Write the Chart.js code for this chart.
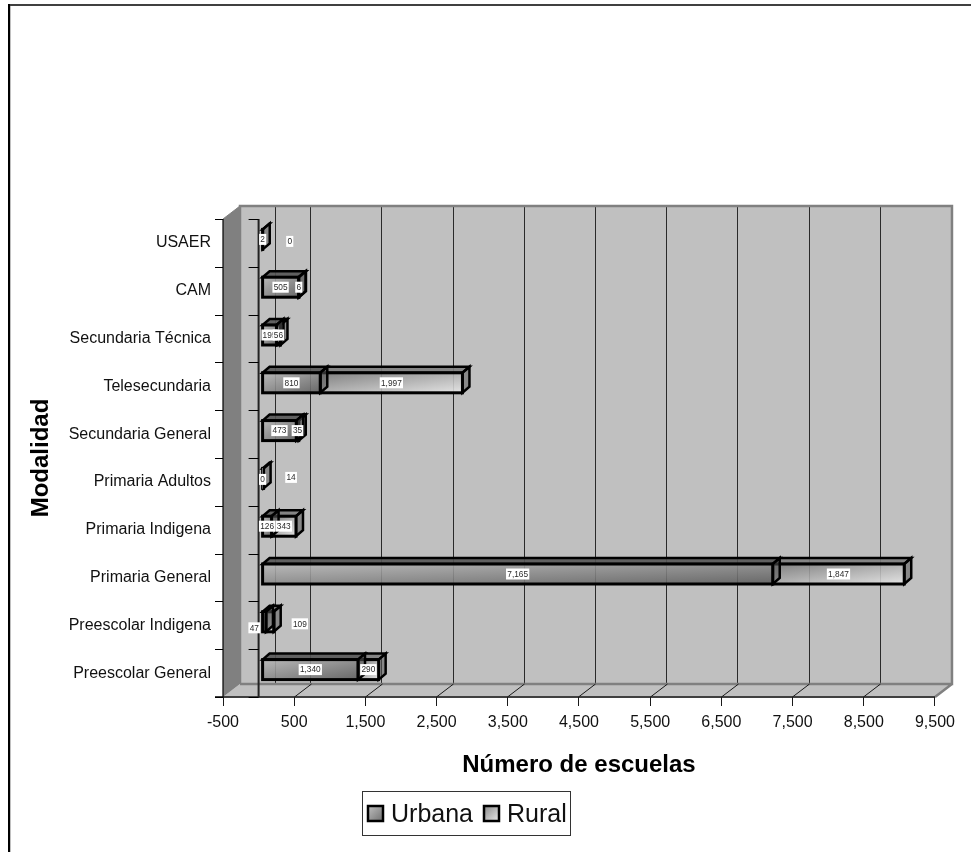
<!DOCTYPE html>
<html lang="es">
<head>
<meta charset="utf-8">
<title>Escuelas por modalidad</title>
<script src="https://cdn.jsdelivr.net/npm/chart.js@4/dist/chart.umd.js"></script>
<style>
html, body { margin: 0; padding: 0; background: #fff; }
canvas { display: block; }
</style>
</head>
<body>
<canvas id="grafica" width="971" height="852"></canvas>
<script>
// Schools per modality, listed from the bottom of the axis upwards
const categorias = ['Preescolar General', 'Preescolar Indigena', 'Primaria General', 'Primaria Indigena',
  'Primaria Adultos', 'Secundaria General', 'Telesecundaria', 'Secundaria Técnica', 'CAM', 'USAER'];
const urbana = [1340, 47, 7165, 126, 0, 473, 810, 195, 505, 2];
const rural = [290, 109, 1847, 343, 14, 35, 1997, 56, 6, 0];

const FUENTE = '"Liberation Sans", Arial, sans-serif';
const PROF_X = 17, PROF_Y = -13;      // depth of the chart box
const BARRA_X = 7, BARRA_Y = -6;      // depth of each bar
const DESP_X = 4, DESP_Y = -3.5;      // bars sit midway into the box
const GROSOR = 20;

// Labels of very short segments are moved away from their bar
const ajusteUrbana = { 1: [-10, 6], 4: [0, 1] };
const ajusteRural = { 4: [28, -1], 1: [30, 2], 9: [27, 2] };

const tonosUrbana = ['rgba(184,184,184,0.88)', 'rgba(92,92,92,0.88)'];
const tonosRural = ['rgba(120,120,120,0.88)', 'rgba(232,232,232,0.88)'];
const sinBase = categorias.map(() => 0);

// Corner-to-corner shading whose bands run parallel to the other diagonal
function degradado(c, base, tramo, colores) {
  const i = c.dataIndex;
  if (i === undefined) return colores[0];
  const chart = c.chart, x = chart.scales.x;
  const izq = x.getPixelForValue(base[i]);
  const fin = x.getPixelForValue(base[i] + tramo[i]);
  const centro = chart.scales.y.getPixelForValue(i);
  if (!Number.isFinite(izq) || !Number.isFinite(fin) || !Number.isFinite(centro)) return colores[0];
  const w = Math.max(fin - izq, 1);
  const sup = centro - GROSOR / 2;
  const k = 2 * w * GROSOR / (w * w + GROSOR * GROSOR);
  const g = chart.ctx.createLinearGradient(izq, sup, izq + GROSOR * k, sup + w * k);
  g.addColorStop(0, colores[0]);
  g.addColorStop(1, colores[1]);
  return g;
}

const caja3d = {
  id: 'caja3d',
  beforeDraw(chart) {
    const { ctx, chartArea: a, scales: { x } } = chart;
    const der = a.right, izq = a.left, sup = a.top, inf = a.bottom;
    ctx.save();
    ctx.fillStyle = '#fff';
    ctx.fillRect(0, 0, chart.width, chart.height);

    // outer frame: only the top and left edges show
    ctx.fillStyle = '#404040';
    ctx.fillRect(8, 4, chart.width - 8, 2);
    ctx.fillStyle = '#000';
    ctx.fillRect(8, 4, 2, chart.height - 4);
    ctx.fillStyle = '#c0c0c0';
    ctx.fillRect(10, 6, 1, chart.height - 6);

    // back wall
    ctx.fillStyle = '#c0c0c0';
    ctx.fillRect(izq + PROF_X, sup + PROF_Y, der - izq, inf - sup);
    // floor
    ctx.beginPath();
    ctx.moveTo(izq, inf);
    ctx.lineTo(izq + PROF_X, inf + PROF_Y);
    ctx.lineTo(der + PROF_X, inf + PROF_Y);
    ctx.lineTo(der, inf);
    ctx.closePath();
    ctx.fill();
    // side wall
    ctx.fillStyle = '#808080';
    ctx.beginPath();
    ctx.moveTo(izq, sup);
    ctx.lineTo(izq + PROF_X, sup + PROF_Y);
    ctx.lineTo(izq + PROF_X, inf + PROF_Y);
    ctx.lineTo(izq, inf);
    ctx.closePath();
    ctx.fill();

    // vertical grid lines on the back wall, one per tick and one at zero
    ctx.strokeStyle = '#2a2a2a';
    ctx.lineWidth = 1;
    const valores = x.ticks.map(t => t.value).filter(v => v > x.min && v < x.max).concat(0);
    valores.forEach(v => {
      const px = Math.floor(x.getPixelForValue(v) + PROF_X - 0.5) + 0.5;
      ctx.beginPath();
      ctx.moveTo(px, sup + PROF_Y);
      ctx.lineTo(px, inf + PROF_Y);
      ctx.stroke();
    });

    // outline of wall and floor
    ctx.strokeStyle = '#808080';
    ctx.lineWidth = 2.5;
    ctx.beginPath();
    ctx.moveTo(izq + PROF_X, inf + PROF_Y);
    ctx.lineTo(izq + PROF_X, sup + PROF_Y);
    ctx.lineTo(der + PROF_X, sup + PROF_Y);
    ctx.lineTo(der + PROF_X, inf + PROF_Y);
    ctx.lineTo(izq + PROF_X, inf + PROF_Y);
    ctx.moveTo(der + PROF_X, inf + PROF_Y);
    ctx.lineTo(der, inf);
    ctx.stroke();
    ctx.lineWidth = 1;
    ctx.beginPath();
    ctx.moveTo(izq, sup);
    ctx.lineTo(izq + PROF_X, sup + PROF_Y);
    ctx.stroke();

    // x axis: front edge, tick marks and their slants across the floor
    ctx.strokeStyle = '#404040';
    ctx.lineWidth = 2;
    ctx.beginPath();
    ctx.moveTo(izq - 8, inf);
    ctx.lineTo(der, inf);
    ctx.stroke();
    ctx.strokeStyle = '#1a1a1a';
    ctx.lineWidth = 1;
    x.ticks.forEach(t => {
      const px = Math.floor(x.getPixelForValue(t.value)) + 0.5;
      ctx.beginPath();
      ctx.moveTo(px, inf);
      ctx.lineTo(px, inf + 9);
      if (t.value < x.max && t.value > x.min) {
        ctx.moveTo(px, inf);
        ctx.lineTo(px + PROF_X, inf + PROF_Y);
      }
      ctx.stroke();
    });

    // category axis on the wall edge and again at zero
    const cero = x.getPixelForValue(0);
    ctx.strokeStyle = '#000';
    ctx.lineWidth = 1.2;
    ctx.beginPath();
    ctx.moveTo(izq, sup);
    ctx.lineTo(izq, inf);
    ctx.stroke();
    ctx.strokeStyle = '#222';
    ctx.lineWidth = 2;
    ctx.beginPath();
    ctx.moveTo(cero, sup);
    ctx.lineTo(cero, inf);
    ctx.stroke();
    ctx.strokeStyle = '#000';
    ctx.lineWidth = 1;
    const paso = (inf - sup) / categorias.length;
    for (let i = 0; i <= categorias.length; i++) {
      const py = Math.round(sup + paso * i) + 0.5;
      ctx.beginPath();
      ctx.moveTo(izq - 8, py);
      ctx.lineTo(izq, py);
      ctx.moveTo(cero - 10, py);
      ctx.lineTo(cero, py);
      ctx.stroke();
    }
    ctx.restore();
  },

  // Top and end faces go down first; the library then paints the front
  beforeDatasetDraw(chart, args) {
    const { ctx } = chart;
    ctx.save();
    ctx.translate(DESP_X, DESP_Y);
    const valores = chart.data.datasets[args.index].data;
    args.meta.data.forEach((el, i) => {
      if (!valores[i]) return;
      const l = el.base, r = el.x, t = el.y - el.height / 2, b = el.y + el.height / 2;
      ctx.lineWidth = 2.5;
      ctx.lineJoin = 'miter';
      ctx.strokeStyle = '#000';
      ctx.fillStyle = args.index === 0 ? 'rgba(85,85,85,0.9)' : 'rgba(125,125,125,0.9)';
      ctx.beginPath();
      ctx.moveTo(l, t);
      ctx.lineTo(l + BARRA_X, t + BARRA_Y);
      ctx.lineTo(r + BARRA_X, t + BARRA_Y);
      ctx.lineTo(r, t);
      ctx.closePath();
      ctx.fill();
      ctx.stroke();
      ctx.fillStyle = 'rgba(90,90,90,0.55)';
      ctx.beginPath();
      ctx.moveTo(r, t);
      ctx.lineTo(r + BARRA_X, t + BARRA_Y);
      ctx.lineTo(r + BARRA_X, b + BARRA_Y);
      ctx.lineTo(r, b);
      ctx.closePath();
      ctx.fill();
      ctx.stroke();
    });
  },
  afterDatasetDraw(chart, args) {
    const { ctx } = chart;
    const valores = chart.data.datasets[args.index].data;
    ctx.strokeStyle = '#000';
    ctx.lineWidth = 3;
    args.meta.data.forEach((el, i) => {
      if (!valores[i]) return;
      ctx.strokeRect(el.base, el.y - el.height / 2, el.x - el.base, el.height);
    });
    ctx.restore();
  },

  // Value boxes and the legend sit on top of everything
  afterDatasetsDraw(chart) {
    const { ctx } = chart;
    const ajustes = [ajusteUrbana, ajusteRural];
    ctx.save();
    ctx.font = '8.3px ' + FUENTE;
    ctx.textAlign = 'center';
    ctx.textBaseline = 'middle';
    [0, 1].forEach(d => {
      const valores = chart.data.datasets[d].data;
      chart.getDatasetMeta(d).data.forEach((el, i) => {
        const [ax, ay] = ajustes[d][i] || [0, 0];
        const cx = (el.base + el.x) / 2 + DESP_X + ax;
        const cy = el.y + DESP_Y + ay;
        const texto = valores[i].toLocaleString('en-US');
        const w = ctx.measureText(texto).width + 2.5;
        ctx.fillStyle = '#fff';
        ctx.fillRect(cx - w / 2, cy - 5.5, w, 11);
        ctx.fillStyle = '#2a2a2a';
        ctx.fillText(texto, cx, cy + 0.5);
      });
    });

    // legend
    ctx.fillStyle = '#fff';
    ctx.fillRect(362, 791, 208, 44);
    ctx.strokeStyle = '#333';
    ctx.lineWidth = 1;
    ctx.strokeRect(362.5, 791.5, 208, 44);
    ctx.font = '25px ' + FUENTE;
    ctx.textAlign = 'left';
    ctx.textBaseline = 'middle';
    const entradas = [[368, 391, tonosUrbana], [484, 507, tonosRural]];
    chart.data.datasets.forEach((ds, i) => {
      const [xc, xt, tonos] = entradas[i];
      const g = ctx.createLinearGradient(xc, 806, xc + 15, 821);
      g.addColorStop(0, tonos[0]);
      g.addColorStop(1, tonos[1]);
      ctx.fillStyle = g;
      ctx.fillRect(xc, 806, 15, 15);
      ctx.strokeStyle = '#000';
      ctx.lineWidth = 2.5;
      ctx.strokeRect(xc, 806, 15, 15);
      ctx.fillStyle = '#111';
      ctx.fillText(ds.label, xt, 815);
    });
    ctx.restore();
  }
};

new Chart(document.getElementById('grafica'), {
  type: 'bar',
  plugins: [caja3d],
  data: {
    labels: categorias,
    datasets: [
      {
        label: 'Urbana',
        data: urbana,
        barThickness: GROSOR,
        borderWidth: 0,
        backgroundColor: c => degradado(c, sinBase, urbana, tonosUrbana)
      },
      {
        label: 'Rural',
        data: rural,
        barThickness: GROSOR,
        borderWidth: 0,
        backgroundColor: c => degradado(c, urbana, rural, tonosRural)
      }
    ]
  },
  options: {
    indexAxis: 'y',
    responsive: false,
    animation: false,
    layout: { padding: { left: 27, right: 36, top: 219, bottom: 72.5 } },
    plugins: { legend: { display: false }, tooltip: { enabled: false } },
    scales: {
      x: {
        type: 'linear',
        stacked: true,
        min: -500,
        max: 9500,
        afterFit: s => { s.height = 82.5; },
        grid: { display: false, drawTicks: false },
        border: { display: false },
        ticks: {
          stepSize: 1000,
          autoSkip: false,
          maxRotation: 0,
          minRotation: 0,
          padding: 16,
          color: '#111',
          font: { family: FUENTE, size: 16 },
          callback: v => v.toLocaleString('en-US')
        },
        title: {
          display: true,
          text: 'Número de escuelas',
          color: '#000',
          padding: { top: 0, bottom: 0 },
          font: { family: FUENTE, size: 24, weight: 'bold' }
        }
      },
      y: {
        stacked: true,
        reverse: true,
        offset: true,
        afterFit: s => { s.width = 196; },
        grid: { display: false, drawTicks: false },
        border: { display: false },
        ticks: {
          autoSkip: false,
          padding: 12,
          color: '#111',
          font: { family: FUENTE, size: 16 }
        },
        title: {
          display: true,
          text: 'Modalidad',
          color: '#000',
          padding: { top: 0, bottom: 0 },
          font: { family: FUENTE, size: 24, weight: 'bold' }
        }
      }
    }
  }
});
</script>
</body>
</html>
